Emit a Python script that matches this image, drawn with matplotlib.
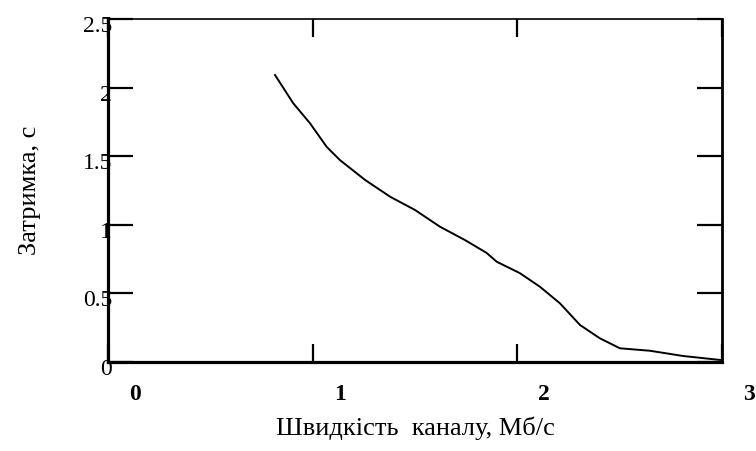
import matplotlib.pyplot as plt
import matplotlib.transforms as mtransforms

# channel speed, Mb/s  and delay, s
speed = [0.816, 0.905, 0.987, 1.068, 1.133, 1.256, 1.378, 1.500, 1.622,
         1.744, 1.850, 1.899, 2.013, 2.110, 2.208, 2.306, 2.403, 2.501,
         2.648, 2.809, 2.990]
delay = [2.092, 1.886, 1.740, 1.569, 1.472, 1.327, 1.205, 1.108, 0.986,
         0.889, 0.795, 0.731, 0.647, 0.549, 0.428, 0.270, 0.173, 0.100,
         0.082, 0.044, 0.015]

x_ticks = [0, 1, 2, 3]
x_labels = ["0", "1", "2", "3"]
y_ticks = [0, 0.5, 1, 1.5, 2, 2.5]
y_labels = ["0", "0.5", "1", "1.5", "2", "2.5"]

plt.rcParams['font.family'] = ['Liberation Serif', 'DejaVu Serif']

fig = plt.figure(figsize=(7.56, 4.51), dpi=100)
ax = fig.add_axes([108 / 756, 1 - 362 / 451, 614 / 756, 343 / 451])

ax.plot(speed, delay, color='black', lw=1.4)

ax.set_xlim(0, 3)
ax.set_ylim(0, 2.5)
ax.set_xticks(x_ticks)
ax.set_xticklabels(x_labels, fontsize=17, fontweight='bold')
ax.set_yticks(y_ticks)
ax.set_yticklabels(y_labels, fontsize=17)

ax.tick_params(axis='x', direction='in', length=13, width=1.6, top=True, pad=16)
ax.tick_params(axis='y', direction='in', length=18, width=1.6, right=True, pad=-3)

# labels in the scan sit off their ticks
for lab in ax.get_xticklabels():
    lab.set_transform(lab.get_transform() +
                      mtransforms.ScaledTranslation(0.27, 0, fig.dpi_scale_trans))
for lab in ax.get_yticklabels():
    lab.set_transform(lab.get_transform() +
                      mtransforms.ScaledTranslation(0, -0.05, fig.dpi_scale_trans))

ax.spines['left'].set_linewidth(2.3)
ax.spines['bottom'].set_linewidth(2.3)
ax.spines['right'].set_linewidth(2.0)
ax.spines['top'].set_linewidth(1.2)

ax.set_xlabel("Швидкість  каналу, Мб/с", fontsize=19, labelpad=8)
ax.set_ylabel("Затримка, с", fontsize=19, labelpad=30)

fig.savefig("out.png", dpi=100)
